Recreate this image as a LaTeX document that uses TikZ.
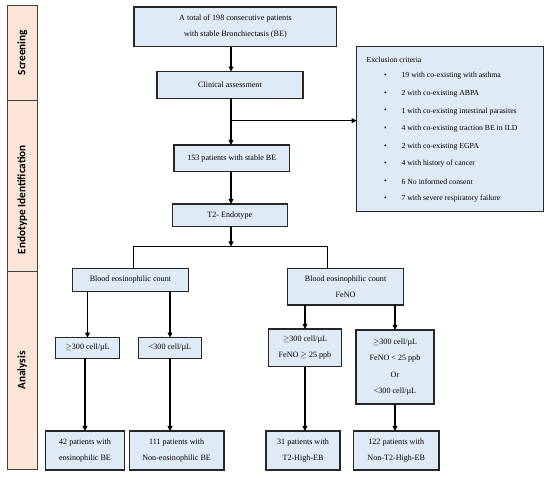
\documentclass[tikz,border=0pt]{standalone}
\usepackage{fontspec}
\setmainfont{Liberation Serif}
\newfontfamily\bandfont{Carlito}
\usepackage{tikz}
\usetikzlibrary{arrows.meta, positioning}
\definecolor{boxblue}{HTML}{DEEBF7}
\definecolor{bandpeach}{HTML}{FBE5D6}
\definecolor{bandgray}{HTML}{404040}

\begin{document}
\begin{tikzpicture}[
        font=\fontsize{11.5}{23}\selectfont,
        every node/.style={align=center, inner sep=0pt, outer sep=0pt},
        % ============= Estilos =============
        stagebox/.style={rectangle, draw=black!85, fill=boxblue, line width=2pt},
        bandbox/.style={rectangle, draw=bandgray, fill=bandpeach, line width=1.4pt,
                         minimum width=1.53cm},
        bandlabel/.style={rotate=90, font=\bandfont\fontsize{16}{18}\selectfont\bfseries},
        exitem/.style={anchor=west, font=\fontsize{11}{13}\selectfont},
        flowarrow/.style={-{Triangle[length=2.6mm,width=2.4mm]}, line width=1.8pt},
        flowline/.style={line width=1.8pt}
    ]
        \useasboundingbox (0,0) rectangle (27.5,-23.9);

        % ===== Bandas laterales =====
        \node[bandbox, minimum height=4.75cm] (screen) at (1.12,-2.63) {};
        \node[bandlabel] at (screen.center) {Screening};
        \node[bandbox, minimum height=8.58cm] (endo) at (1.12,-9.29) {};
        \node[bandlabel] at ([yshift=-0.7cm]endo.center) {Endotype Identification};
        \node[bandbox, minimum height=9.87cm] (anal) at (1.12,-18.52) {};
        \node[bandlabel] at (anal.center) {Analysis};

        % ===== Columna principal =====
        \node[stagebox, minimum width=10.13cm, minimum height=1.98cm] (total) at (11.77,-1.34)
            {A total of 198 consecutive patients\\with stable Bronchiectasis (BE)};
        \node[stagebox, minimum width=7.29cm, minimum height=1.33cm] (clin) at (11.5,-4.25)
            {Clinical assessment};
        \node[stagebox, minimum width=5.78cm, minimum height=1.33cm] (stable) at (11.59,-7.92)
            {153 patients with stable BE};
        \node[stagebox, minimum width=5.75cm, minimum height=1.13cm] (endotype) at (11.49,-10.77)
            {T2- Endotype};

        % ===== Criterios de exclusión =====
        \node[stagebox, minimum width=9.33cm, minimum height=8.25cm] (excl) at (22.5,-6.46) {};
        \node[exitem] (exhead) at (18.33,-3.0) {Exclusion criteria};
        \foreach \i/\txt in {%
            1/19 with co-existing with asthma,
            2/2 with co-existing ABPA,
            3/1 with co-existing intestinal parasites,
            4/4 with co-existing traction BE in ILD,
            5/2 with co-existing EGPA,
            6/4 with history of cancer,
            7/6 No informed consent,
            8/7 with severe respiratory failure%
        }{
            \node[exitem] (exb\i) at (19.2,{-3.8-0.879*(\i-1)}) {\textbullet};
            \node[exitem] (ex\i) at (20.08,{-3.8-0.879*(\i-1)}) {\txt};
        }

        % ===== Ramas de análisis =====
        \node[stagebox, minimum width=5.8cm, minimum height=1.17cm] (bec) at (6.52,-14.0)
            {Blood eosinophilic count};
        \node[stagebox, minimum width=5.8cm, minimum height=1.83cm] (becfeno) at (17.28,-14.33)
            {Blood eosinophilic count\\FeNO};

        \node[stagebox, minimum width=3.18cm, minimum height=1.03cm] (high) at (4.375,-17.4)
            {$\geq$300 cell/µL};
        \node[stagebox, minimum width=3.17cm, minimum height=1.03cm] (low) at (8.5,-17.4)
            {<300 cell/µL};
        \node[stagebox, minimum width=3.67cm, minimum height=1.88cm] (highfeno) at (15.25,-17.39)
            {$\geq$300 cell/µL\\FeNO $\geq$ 25 ppb};
        \node[stagebox, minimum width=3.9cm, minimum height=3.7cm] (lowfeno) at (19.75,-18.35)
            {$\geq$300 cell/µL\\FeNO < 25 ppb\\Or\\<300 cell/µL};

        \node[stagebox, minimum width=3.93cm, minimum height=1.95cm] (eos) at (4.25,-22.53)
            {42 patients with\\eosinophilic BE};
        \node[stagebox, minimum width=4.73cm, minimum height=1.95cm] (noneos) at (8.83,-22.53)
            {111 patients with\\Non-eosinophilic BE};
        \node[stagebox, minimum width=3.7cm, minimum height=1.95cm] (t2high) at (15.15,-22.53)
            {31 patients with\\T2-High-EB};
        \node[stagebox, minimum width=4.28cm, minimum height=1.95cm] (nont2) at (19.81,-22.53)
            {122 patients with\\Non-T2-High-EB};

        % ===== Conectores =====
        \coordinate (split) at (11.55,-6.03);
        \coordinate (bar) at (11.55,-12.33);
        \coordinate (barl) at (6.67,-12.33);
        \coordinate (barr) at (16.37,-12.33);

        \draw[flowarrow] (total.south -| split) -- (split |- clin.north);
        \draw[flowarrow] (clin.south -| split) -- (split |- stable.north);
        \draw[flowarrow] (split) -- (split -| excl.west);
        \draw[flowarrow] (stable.south -| split) -- (split |- endotype.north);
        \draw[flowarrow] (endotype.south -| bar) -- (bar);
        \draw[flowline] (barl |- bec.north) -- (barl) -- (barr) -- (barr |- becfeno.north);

        \draw[flowarrow] (bec.south -| high.north) -- (high.north);
        \draw[flowarrow] (bec.south -| low.north) -- (low.north);
        \draw[flowarrow] (becfeno.south -| highfeno.north) -- (highfeno.north);
        \draw[flowarrow] (becfeno.south -| lowfeno.north) -- (lowfeno.north);

        \draw[flowarrow] (high.south -| eos.north) -- (eos.north);
        \draw[flowarrow] (low.south) -- (low.south |- noneos.north);
        \draw[flowarrow] (highfeno.south) -- (highfeno.south |- t2high.north);
        \draw[flowarrow] (lowfeno.south) -- (lowfeno.south |- nont2.north);
    \end{tikzpicture}
\end{document}
